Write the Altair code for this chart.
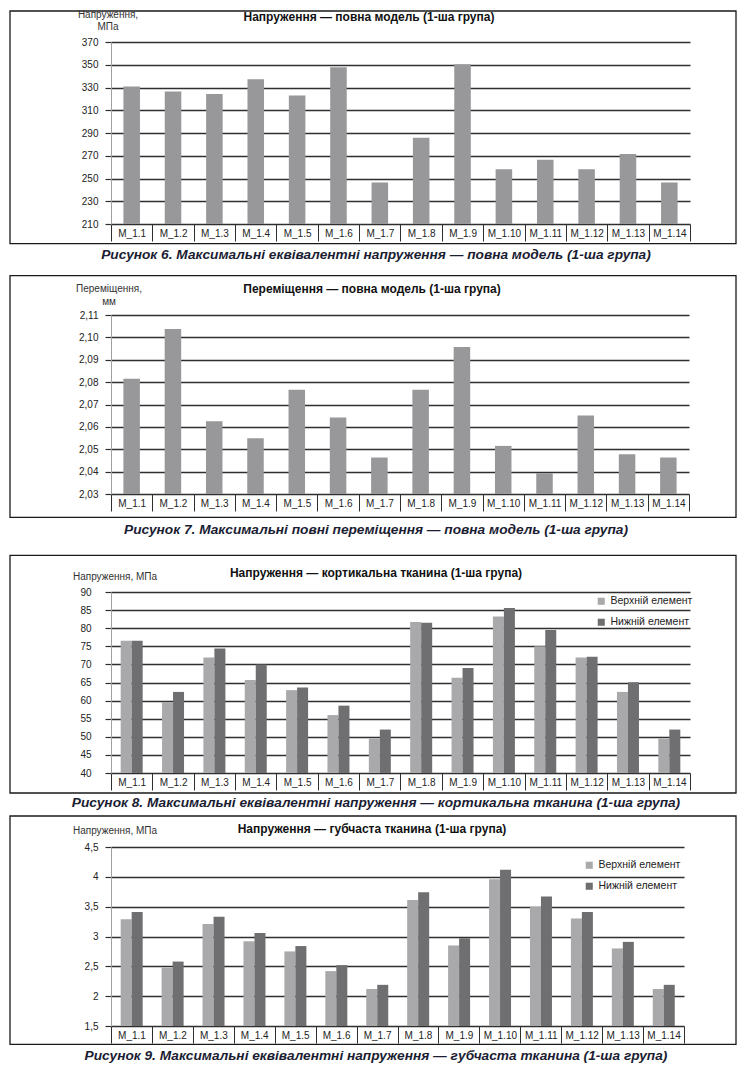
import altair as alt
import pandas as pd

models = ["M_1.1", "M_1.2", "M_1.3", "M_1.4", "M_1.5", "M_1.6", "M_1.7",
          "M_1.8", "M_1.9", "M_1.10", "M_1.11", "M_1.12", "M_1.13", "M_1.14"]

stress_full = [330.9, 326.5, 324.2, 337.3, 323.0, 347.7, 246.5,
               285.9, 350.5, 258.2, 266.5, 258.2, 271.5, 246.5]
disp_full = [2.0815, 2.1037, 2.0625, 2.0549, 2.0766, 2.0642, 2.0463,
             2.0766, 2.0957, 2.0515, 2.0393, 2.0651, 2.0478, 2.0463]
cort_upper = [76.5, 59.6, 71.9, 65.7, 62.9, 56.0, 49.5,
              81.7, 66.3, 83.2, 75.0, 71.9, 62.4, 49.5]
cort_lower = [76.5, 62.4, 74.4, 70.0, 63.6, 58.6, 52.0,
              81.5, 69.0, 85.6, 79.5, 72.1, 65.1, 52.0]
spong_upper = [3.29, 2.48, 3.21, 2.92, 2.75, 2.42, 2.12,
               3.61, 2.85, 3.96, 3.50, 3.30, 2.80, 2.12]
spong_lower = [3.41, 2.58, 3.33, 3.06, 2.84, 2.52, 2.19,
               3.74, 2.97, 4.12, 3.67, 3.41, 2.91, 2.19]

series = ["Верхній елемент", "Нижній елемент"]

ticks1 = [210, 230, 250, 270, 290, 310, 330, 350, 370]
ticks2 = [2.03, 2.04, 2.05, 2.06, 2.07, 2.08, 2.09, 2.10, 2.11]
ticks3 = [40, 45, 50, 55, 60, 65, 70, 75, 80, 85, 90]
ticks4 = [1.5, 2.0, 2.5, 3.0, 3.5, 4.0, 4.5]

titles = ["Напруження — повна модель (1-ша група)",
          "Переміщення — повна модель (1-ша група)",
          "Напруження — кортикальна тканина (1-ша група)",
          "Напруження — губчаста тканина (1-ша група)"]
ylabels = ["Напруження,\nМПа", "Переміщення,\nмм", "Напруження, МПа", "Напруження, МПа"]
captions = ["Рисунок 6. Максимальні еквівалентні напруження — повна модель (1-ша група)",
            "Рисунок 7. Максимальні повні переміщення — повна модель (1-ша група)",
            "Рисунок 8. Максимальні еквівалентні напруження — кортикальна тканина (1-ша група)",
            "Рисунок 9. Максимальні еквівалентні напруження — губчаста тканина (1-ша група)"]

FONT = "Liberation Sans"
GRID = "#2f2f2f"
SINGLE = "#98989b"
LIGHT = "#a9a9ab"
DARK = "#6f6f71"
X0, X1 = -101, 625


def y_axis(ticks, expr, pad):
    return alt.Axis(values=ticks, title=None, grid=True, gridColor=GRID, gridWidth=1.5,
                    tickColor=GRID, tickSize=6, tickWidth=1.2,
                    domainColor="#a0a0a0", domainWidth=1,
                    labelFont=FONT, labelFontSize=10, labelColor="#222222",
                    labelPadding=pad, labelExpr=expr)


def x_axis():
    return alt.Axis(title=None, tickBand="extent", tickSize=17, tickColor=GRID, tickWidth=1,
                    domain=False, grid=False, labelAngle=0, labelFont=FONT, labelFontSize=10,
                    labelColor="#222222", labelBaseline="middle", labelPadding=-8,
                    labelAlign="center")


def decorations(frame_top, frame_bottom, slot_bottom, title, title_xy, ylab, ylab_xy, caption, cap_y):
    one = pd.DataFrame({"t": [0]})
    spacer = alt.Chart(one).mark_rect(opacity=0).encode(
        x=alt.value(X0), x2=alt.value(X1), y=alt.value(frame_top), y2=alt.value(slot_bottom))
    frame = alt.Chart(one).mark_rect(filled=False, stroke="#1a1a1a", strokeWidth=1.3).encode(
        x=alt.value(X0), x2=alt.value(X1), y=alt.value(frame_top), y2=alt.value(frame_bottom))
    ttl = alt.Chart(pd.DataFrame({"t": [title]})).mark_text(
        font=FONT, fontSize=12, fontWeight="bold", color="#111111", baseline="middle", align="center"
    ).encode(text="t:N", x=alt.value(title_xy[0]), y=alt.value(title_xy[1]))
    ylb = alt.Chart(pd.DataFrame({"t": [ylab]})).mark_text(
        font=FONT, fontSize=10, color="#333333", baseline="alphabetic", align="center",
        lineBreak="\n", lineHeight=12.5
    ).encode(text="t:N", x=alt.value(ylab_xy[0]), y=alt.value(ylab_xy[1]))
    cap = alt.Chart(pd.DataFrame({"t": [caption]})).mark_text(
        font=FONT, fontSize=13.7, fontWeight="bold", fontStyle="italic", color="#1b1d33",
        baseline="middle", align="center"
    ).encode(text="t:N", x=alt.value(265), y=alt.value(cap_y))
    return [spacer, frame, ttl, ylb, cap]


def single_panel(values, ticks, expr, pad, w, h, deco):
    df = pd.DataFrame({"model": models, "value": values})
    bars = alt.Chart(df).mark_bar(color=SINGLE, width=alt.RelativeBandSize(0.4)).encode(
        x=alt.X("model:N", sort=models, scale=alt.Scale(paddingInner=0, paddingOuter=0), axis=x_axis()),
        y=alt.Y("value:Q", scale=alt.Scale(domain=[ticks[0], ticks[-1]], nice=False, zero=False),
                axis=y_axis(ticks, expr, pad)),
        y2=alt.datum(ticks[0]))
    return alt.layer(deco[0], deco[1], bars, *deco[2:]).properties(width=w, height=h)


def grouped_panel(upper, lower, ticks, expr, pad, w, h, lx, ly, deco):
    df = pd.DataFrame({
        "model": models * 2,
        "series": [series[0]] * len(models) + [series[1]] * len(models),
        "value": upper + lower,
    })
    bars = alt.Chart(df).mark_bar().encode(
        x=alt.X("model:N", sort=models, scale=alt.Scale(paddingInner=0, paddingOuter=0), axis=x_axis()),
        xOffset=alt.XOffset("series:N", sort=series, scale=alt.Scale(paddingInner=0, paddingOuter=0.88)),
        y=alt.Y("value:Q", scale=alt.Scale(domain=[ticks[0], ticks[-1]], nice=False, zero=False),
                axis=y_axis(ticks, expr, pad)),
        y2=alt.datum(ticks[0]),
        color=alt.Color("series:N", sort=series,
                        scale=alt.Scale(domain=series, range=[LIGHT, DARK]),
                        legend=alt.Legend(title=None, orient="none", legendX=lx, legendY=ly,
                                          symbolType="square", symbolSize=50, symbolStrokeWidth=0,
                                          labelFont=FONT, labelFontSize=10.5, labelColor="#222222",
                                          rowPadding=10, labelOffset=4)))
    return alt.layer(deco[0], deco[1], bars, *deco[2:]).properties(width=w, height=h)


p1 = single_panel(stress_full, ticks1, "datum.label", 7, 579, 182,
                  decorations(-31, 201.7, 233, titles[0], (258, -25), ylabels[0], (-3, -24.5),
                              captions[0], 212.7))
p2 = single_panel(disp_full, ticks2, "replace(format(datum.value, '.2f'), '.', ',')", 7, 578, 179,
                  decorations(-39.3, 202.4, 238.7, titles[1], (261, -26.3), ylabels[1], (-2, -22.8),
                              captions[1], 214.7))
p3 = grouped_panel(cort_upper, cort_lower, ticks3, "datum.label", 14, 579, 181, 485, 4,
                   decorations(-36.7, 201, 223, titles[2], (265, -18.7), ylabels[2], (4, -15.7 + 3.5),
                               captions[2], 211))
p4 = grouped_panel(spong_upper, spong_lower, ticks4, "replace(format(datum.value, '.1~f'), '.', ',')", 7,
                   573, 179, 473, 13,
                   decorations(-31, 197.3, 216.5, titles[3], (261, -18), ylabels[3], (4, -16.7 + 3.5),
                               captions[3], 209.3))

chart = alt.vconcat(p1, p2, p3, p4, spacing=0).resolve_scale(
    color="independent", x="independent", y="independent"
).resolve_legend(color="independent").properties(
    padding={"left": 1, "top": 1, "right": 1, "bottom": 1},
    background="white",
).configure_view(strokeWidth=0)

chart.save("out.html", embed_options={"renderer": "svg", "actions": False})
